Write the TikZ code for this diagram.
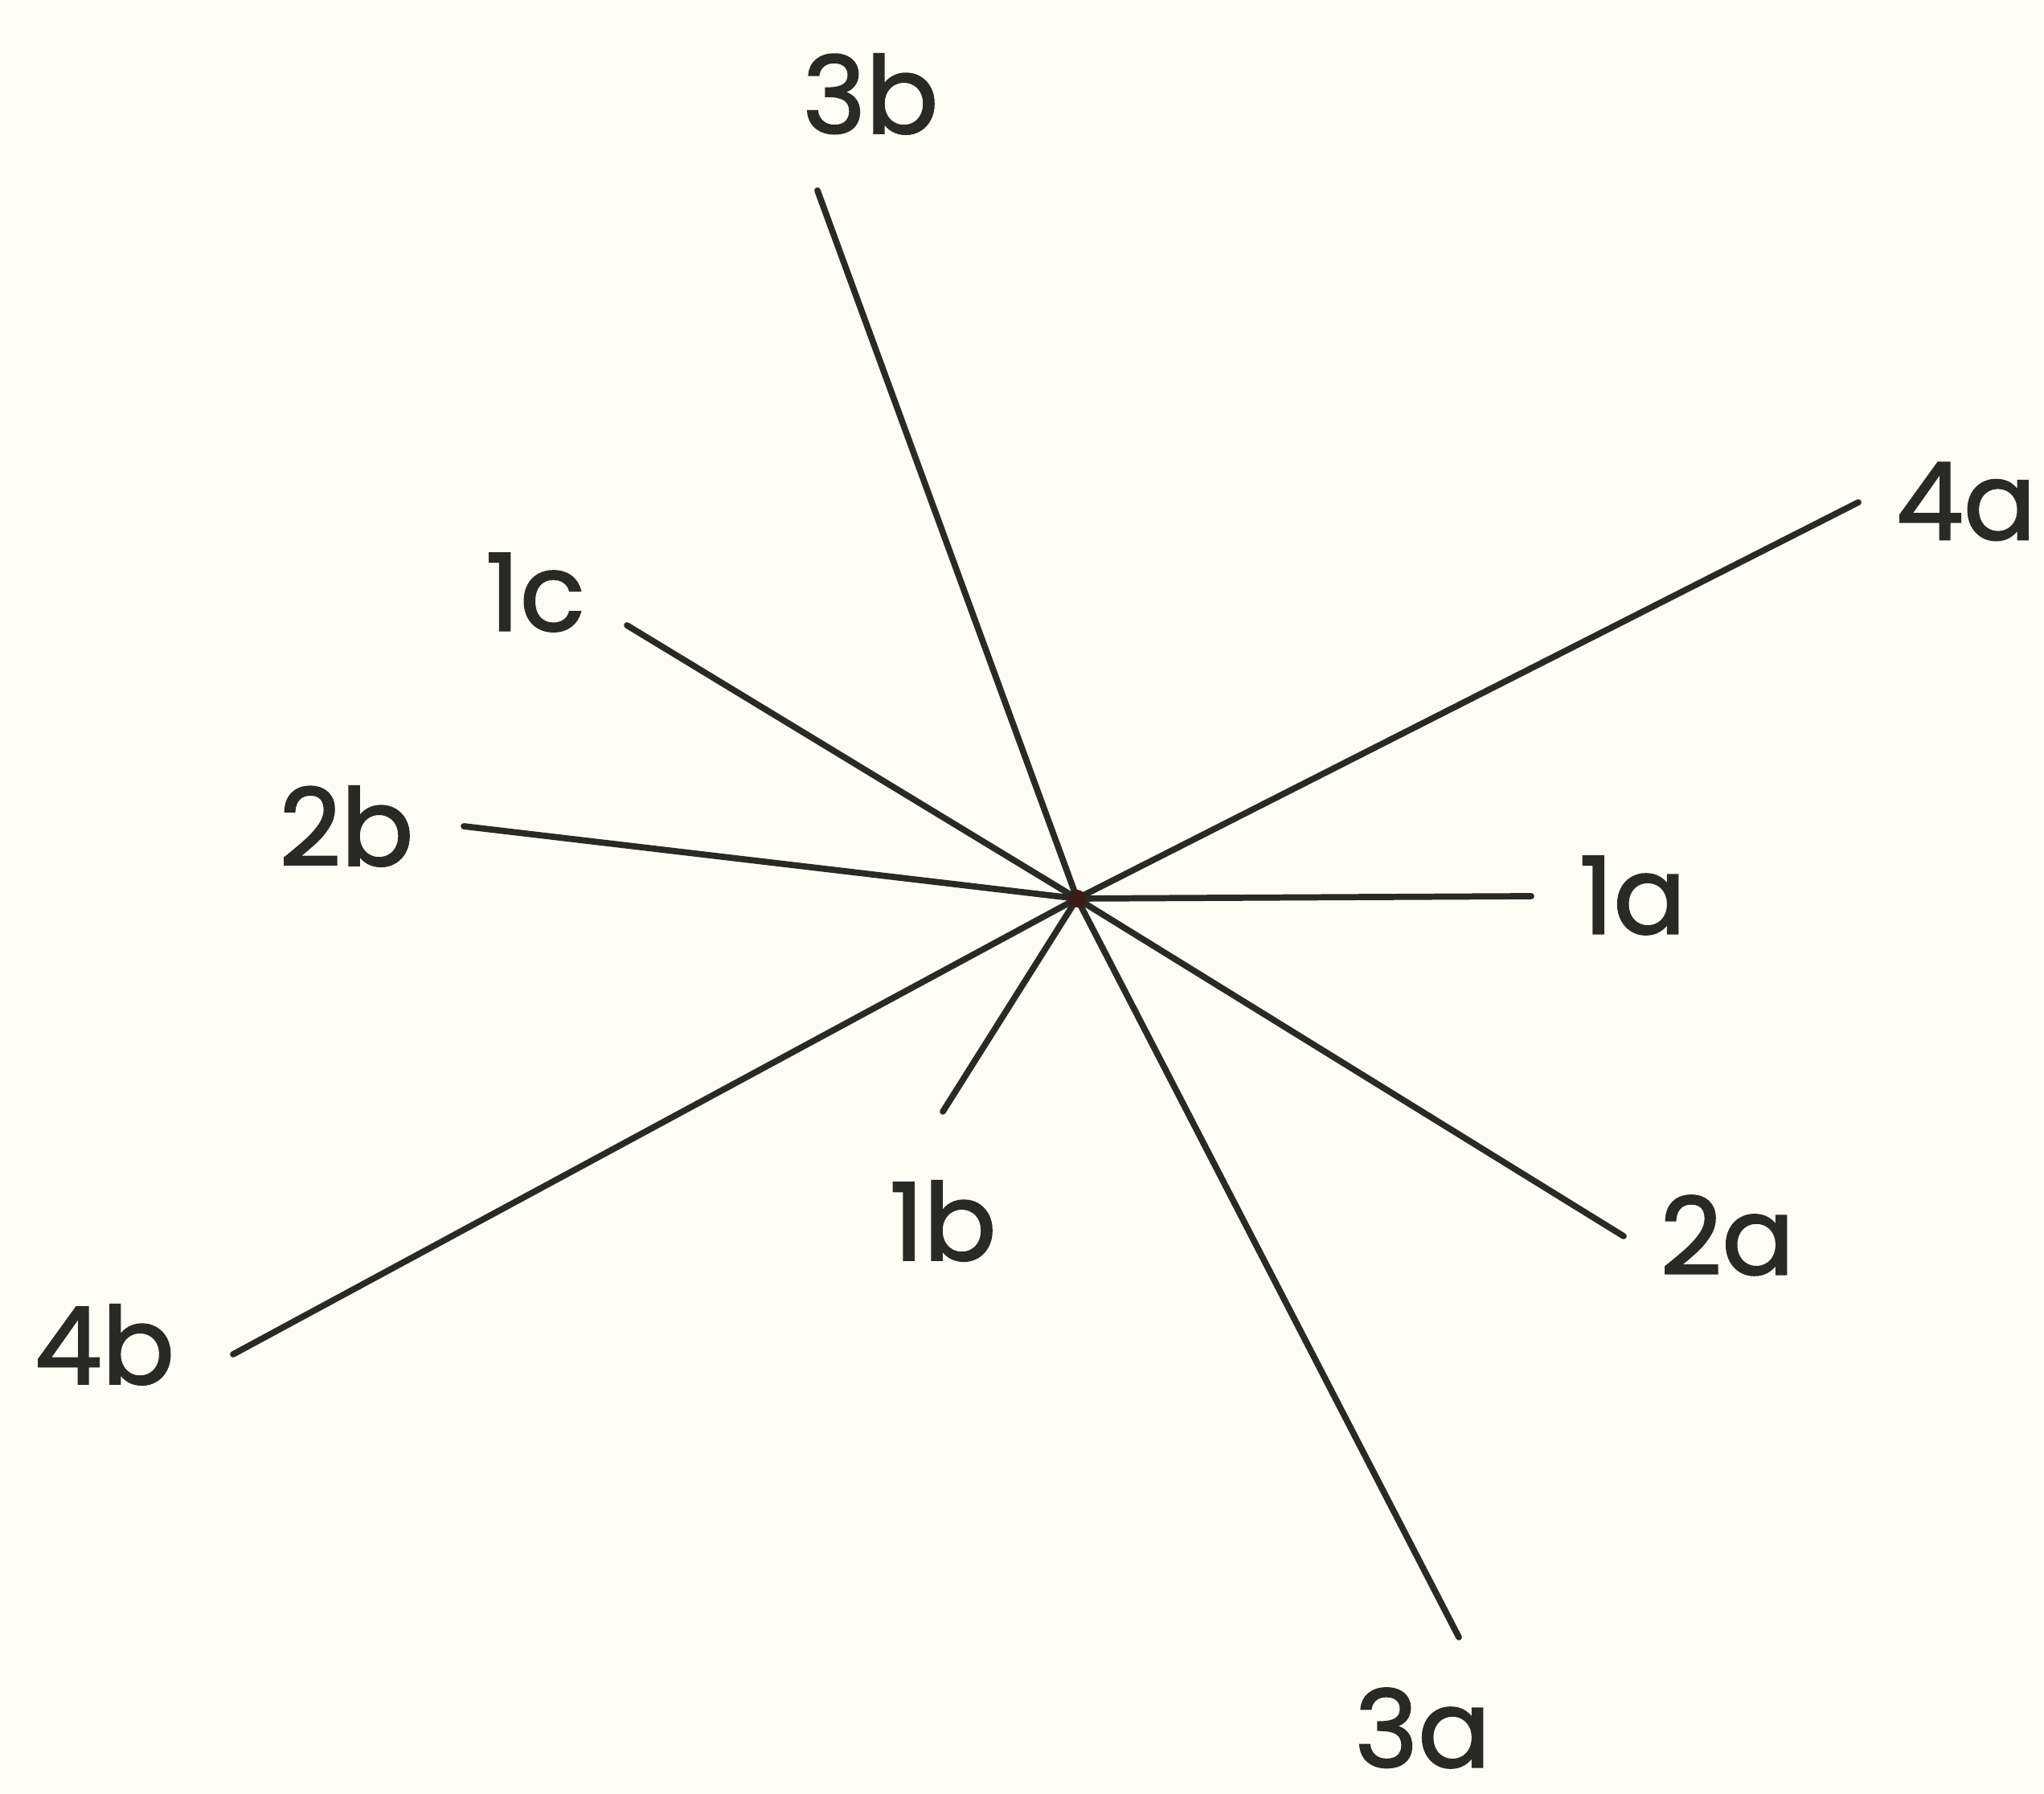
\documentclass[tikz,border=0pt]{standalone}
\usepackage{fontspec}
\setmainfont{Poppins}
\newfontfamily\labelfont[FakeBold=1.6]{Poppins}
\usepackage{tikz}
\usetikzlibrary{positioning}
\definecolor{paper}{HTML}{FDFDF4}
\definecolor{ink}{HTML}{2A2A24}
\definecolor{hubink}{HTML}{3A1C14}
\tikzset{
  axislabel/.style={text=ink,inner sep=0pt,font=\labelfont\fontsize{38}{40}\selectfont},
  axisline/.style={draw=ink,line width=2.2pt,line cap=round}
}
\begin{document}
\begin{tikzpicture}
  \fill[paper] (0,0) rectangle (25.43,22.32);
  \useasboundingbox (0,0) rectangle (25.43,22.32);
  % hub of the star
  \coordinate (hub) at (13.40,11.14);
  % free ends of the axes
  \coordinate (end1a) at (19.05,11.17);
  \coordinate (end1b) at (11.73,8.49);
  \coordinate (end1c) at (7.80,14.54);
  \coordinate (end2a) at (20.20,6.94);
  \coordinate (end2b) at (5.77,12.04);
  \coordinate (end3a) at (18.15,1.95);
  \coordinate (end3b) at (10.17,19.95);
  \coordinate (end4a) at (23.12,16.07);
  \coordinate (end4b) at (2.90,5.47);
  % labels
  \node[axislabel] (lab1a) at (20.31,11.18) {1a};
  \node[axislabel] (lab1b) at (11.73,7.13) {1b};
  \node[axislabel] (lab1c) at (6.66,14.95) {1c};
  \node[axislabel] (lab2a) at (21.49,6.95) {2a};
  \node[axislabel] (lab2b) at (4.31,12.04) {2b};
  \node[axislabel] (lab3a) at (17.70,0.82) {3a};
  \node[axislabel] (lab3b) at (10.83,21.15) {3b};
  \node[axislabel] (lab4a) at (24.46,16.08) {4a};
  \node[axislabel] (lab4b) at (1.30,5.59) {4b};
  % axes
  \draw[axisline] (hub) -- (end1a);
  \draw[axisline] (hub) -- (end1b);
  \draw[axisline] (hub) -- (end1c);
  \draw[axisline] (hub) -- (end2a);
  \draw[axisline] (hub) -- (end2b);
  \draw[axisline] (hub) -- (end3a);
  \draw[axisline] (hub) -- (end3b);
  \draw[axisline] (hub) -- (end4a);
  \draw[axisline] (hub) -- (end4b);
  \fill[hubink] (hub) circle (0.11);
\end{tikzpicture}
\end{document}
